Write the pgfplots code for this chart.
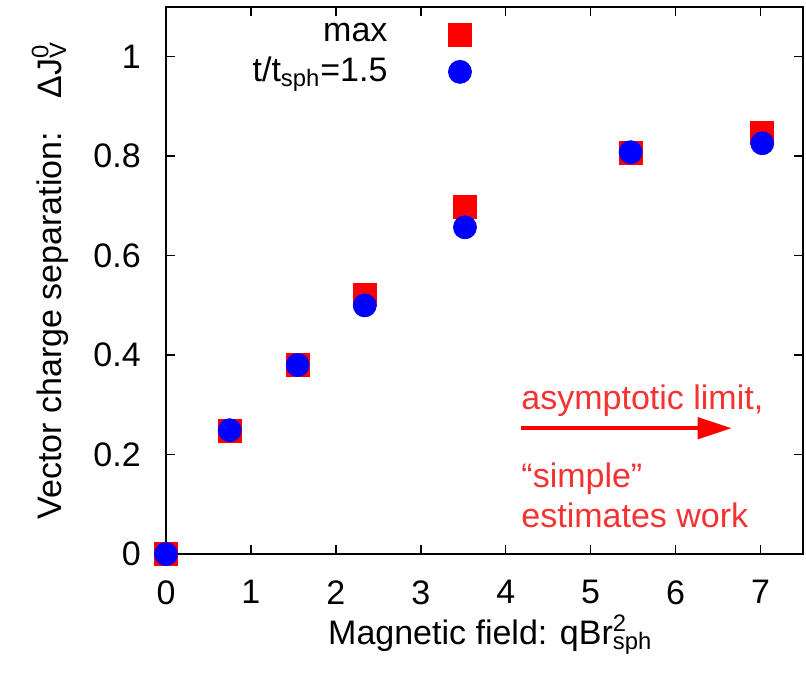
\documentclass[border=0pt]{standalone}
\usepackage{fontspec}
\setmainfont{Liberation Sans}
\usepackage{pgfplots}
\pgfplotsset{compat=1.18}
\usetikzlibrary{arrows.meta}
\definecolor{annot}{RGB}{245,50,50}
\begin{document}
\fontsize{17}{20.4}\selectfont
\begin{tikzpicture}
\begin{axis}[
  scale only axis, width=318.5pt, height=273.5pt,
  xmin=0, xmax=7.5, ymin=0, ymax=1.1,
  xtick={0,1,2,3,4,5,6,7}, ytick={0,0.2,0.4,0.6,0.8,1},
  tick align=inside, major tick length=4.5pt,
  tick style={black, line width=0.7pt},
  axis line style={line width=0.75pt},
  /pgf/number format/assume math mode=true,
  ticklabel style={font=\fontsize{17}{20.4}\selectfont},
  xticklabel style={yshift=-7.3pt},
  yticklabel style={xshift=-6.8pt},
  clip=false,
  xlabel={Magnetic field: qBr\rlap{\textsuperscript{2}}\textsubscript{sph}},
  xlabel style={font=\fontsize{17}{20.4}\selectfont, at={(axis description cs:0.254,-0.1645)}, anchor=base west, inner sep=0pt},
  ylabel={Vector charge separation:\quad ΔJ\rlap{\textsuperscript{0}}\textsubscript{V}},
  ylabel style={font=\fontsize{17}{20.4}\selectfont, at={(axis description cs:-0.1648,0.5)}, anchor=base, inner sep=0pt},
  legend plot pos=right, legend cell align=right,
  legend style={draw=none, fill=none, at={(axis description cs:0.4896,0.985)}, anchor=north east,
    font=\fontsize{17}{20.4}\selectfont, row sep=1pt, column sep=28.5pt},
]
\addplot[only marks, mark=square*, mark size=5.75pt, red, mark options={draw=red, fill=red}]
  coordinates {(0,0) (0.75,0.247) (1.55,0.38) (2.34,0.521) (3.52,0.699) (5.47,0.807) (7.02,0.847)};
\addlegendentry{max}
\addplot[only marks, mark=*, mark size=5.75pt, blue, mark options={draw=blue, fill=blue}]
  coordinates {(0,0) (0.75,0.249) (1.55,0.38) (2.34,0.50) (3.52,0.657) (5.47,0.808) (7.02,0.826)};
\addlegendentry{t/t\textsubscript{sph}=1.5}
\draw[red, line width=2.2pt, -{Triangle[length=17pt, width=10.5pt]}] (axis cs:4.18,0.253) -- (axis cs:6.66,0.253);
\node[annot, anchor=base west, inner sep=0pt] at (axis cs:4.18,0.29) {asymptotic limit,};
\node[annot, anchor=base west, inner sep=0pt] at (axis cs:4.18,0.133) {“simple”};
\node[annot, anchor=base west, inner sep=0pt] at (axis cs:4.18,0.054) {estimates work};
\end{axis}
\path (current axis.south west) +(-83pt,-61pt) (current axis.north east) +(1.5pt,3.5pt);
\end{tikzpicture}
\end{document}
